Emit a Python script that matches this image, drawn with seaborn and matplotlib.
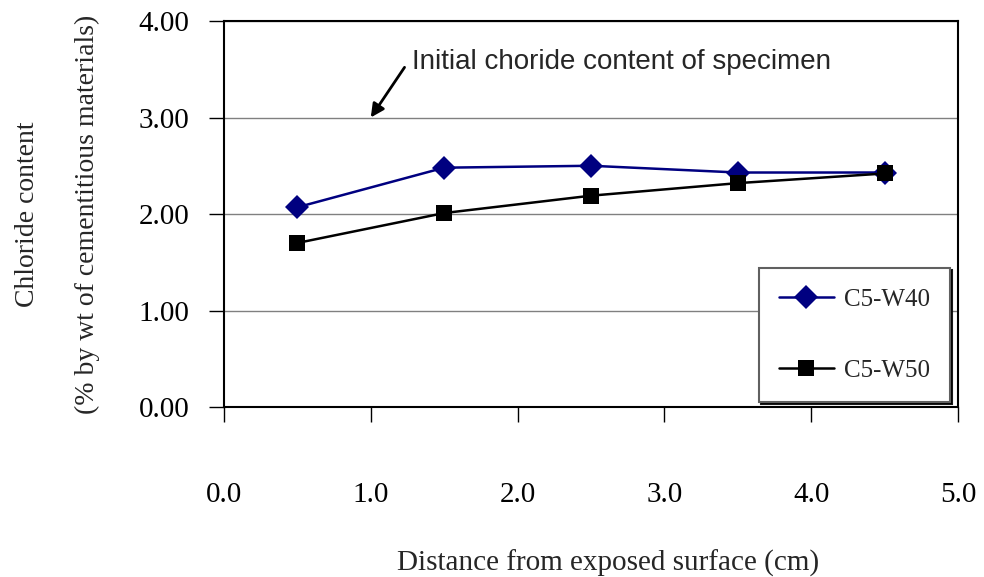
import pandas as pd
import matplotlib
matplotlib.use('Agg')
import matplotlib.pyplot as plt
import seaborn as sns

# depth from exposed surface (cm)
distance = [0.5, 1.5, 2.5, 3.5, 4.5]
w40_chloride = [2.07, 2.48, 2.50, 2.43, 2.43]
w50_chloride = [1.70, 2.01, 2.19, 2.32, 2.42]
x_ticks = [0.0, 1.0, 2.0, 3.0, 4.0, 5.0]
y_ticks = [0.0, 1.0, 2.0, 3.0, 4.0]

df = pd.DataFrame({
    'distance': distance * 2,
    'chloride': w40_chloride + w50_chloride,
    'mix': ['C5-W40'] * 5 + ['C5-W50'] * 5,
})

sns.set_style('white')
plt.rcParams['font.family'] = ['Liberation Serif', 'DejaVu Serif']

fig = plt.figure(figsize = (9.84, 5.77), dpi = 100)
ax = fig.add_axes([0.2276, 0.2946, 0.746, 0.669])

ax.yaxis.grid(True, color = '#808080', linewidth = 1)
ax.set_axisbelow(True)

sns.lineplot(data = df, x = 'distance', y = 'chloride', hue = 'mix', style = 'mix',
             palette = {'C5-W40': '#000080', 'C5-W50': 'black'},
             markers = {'C5-W40': 'D', 'C5-W50': 's'}, dashes = False,
             markersize = 12, linewidth = 1.8, markeredgewidth = 0, ax = ax)
for line in ax.get_lines():
    if line.get_marker() == 's':
        line.set_markersize(11.5)

ax.set_xlim(0, 5)
ax.set_ylim(0, 4)
ax.set_xticks(x_ticks)
ax.set_xticklabels([f'{v:.1f}' for v in x_ticks])
ax.set_yticks(y_ticks)
ax.set_yticklabels([f'{v:.2f}' for v in y_ticks])
ax.tick_params(axis = 'x', direction = 'out', length = 11, width = 1, pad = 43,
               labelsize = 21, bottom = True, colors = 'black')
ax.tick_params(axis = 'y', direction = 'out', length = 11, width = 1, pad = 14,
               labelsize = 21, left = True, colors = 'black')

for side in ['top', 'bottom', 'left', 'right']:
    ax.spines[side].set_color('black')
    ax.spines[side].set_linewidth(1.5)

ax.set_xlabel('Distance from exposed surface (cm)', fontsize = 21, labelpad = 30)
ax.xaxis.label.set_x(0.523)
ax.set_ylabel('')
ax.text(-0.268, 0.5, 'Chloride content', rotation = 90, fontsize = 20,
        ha = 'center', va = 'center', transform = ax.transAxes)
ax.text(-0.186, 0.5, '(% by wt of cementitious materials)', rotation = 90, fontsize = 20,
        ha = 'center', va = 'center', transform = ax.transAxes)

ax.annotate('', xy = (1.0, 3.0), xytext = (1.23, 3.52),
            arrowprops = dict(arrowstyle = '-|>', color = 'black', lw = 2,
                              mutation_scale = 20, shrinkA = 0, shrinkB = 0))
ax.text(1.28, 3.58, 'Initial choride content of specimen', fontsize = 20,
        family = ['Liberation Sans', 'DejaVu Sans'], ha = 'left', va = 'center')

leg = ax.legend(loc = 'lower right', bbox_to_anchor = (0.989, 0.013),
                fontsize = 18, labelspacing = 1.95, borderpad = 0.8,
                handlelength = 2.2, handletextpad = 0.4, fancybox = False,
                edgecolor = '#606060', shadow = {'color': 'black', 'alpha': 0.9, 'ox': 1.2, 'oy': -1.2},
                framealpha = 1, borderaxespad = 0)
leg.get_frame().set_linewidth(1.5)
for h in leg.legend_handles:
    h.set_markeredgewidth(0)

plt.savefig('out.png', dpi = 100)
